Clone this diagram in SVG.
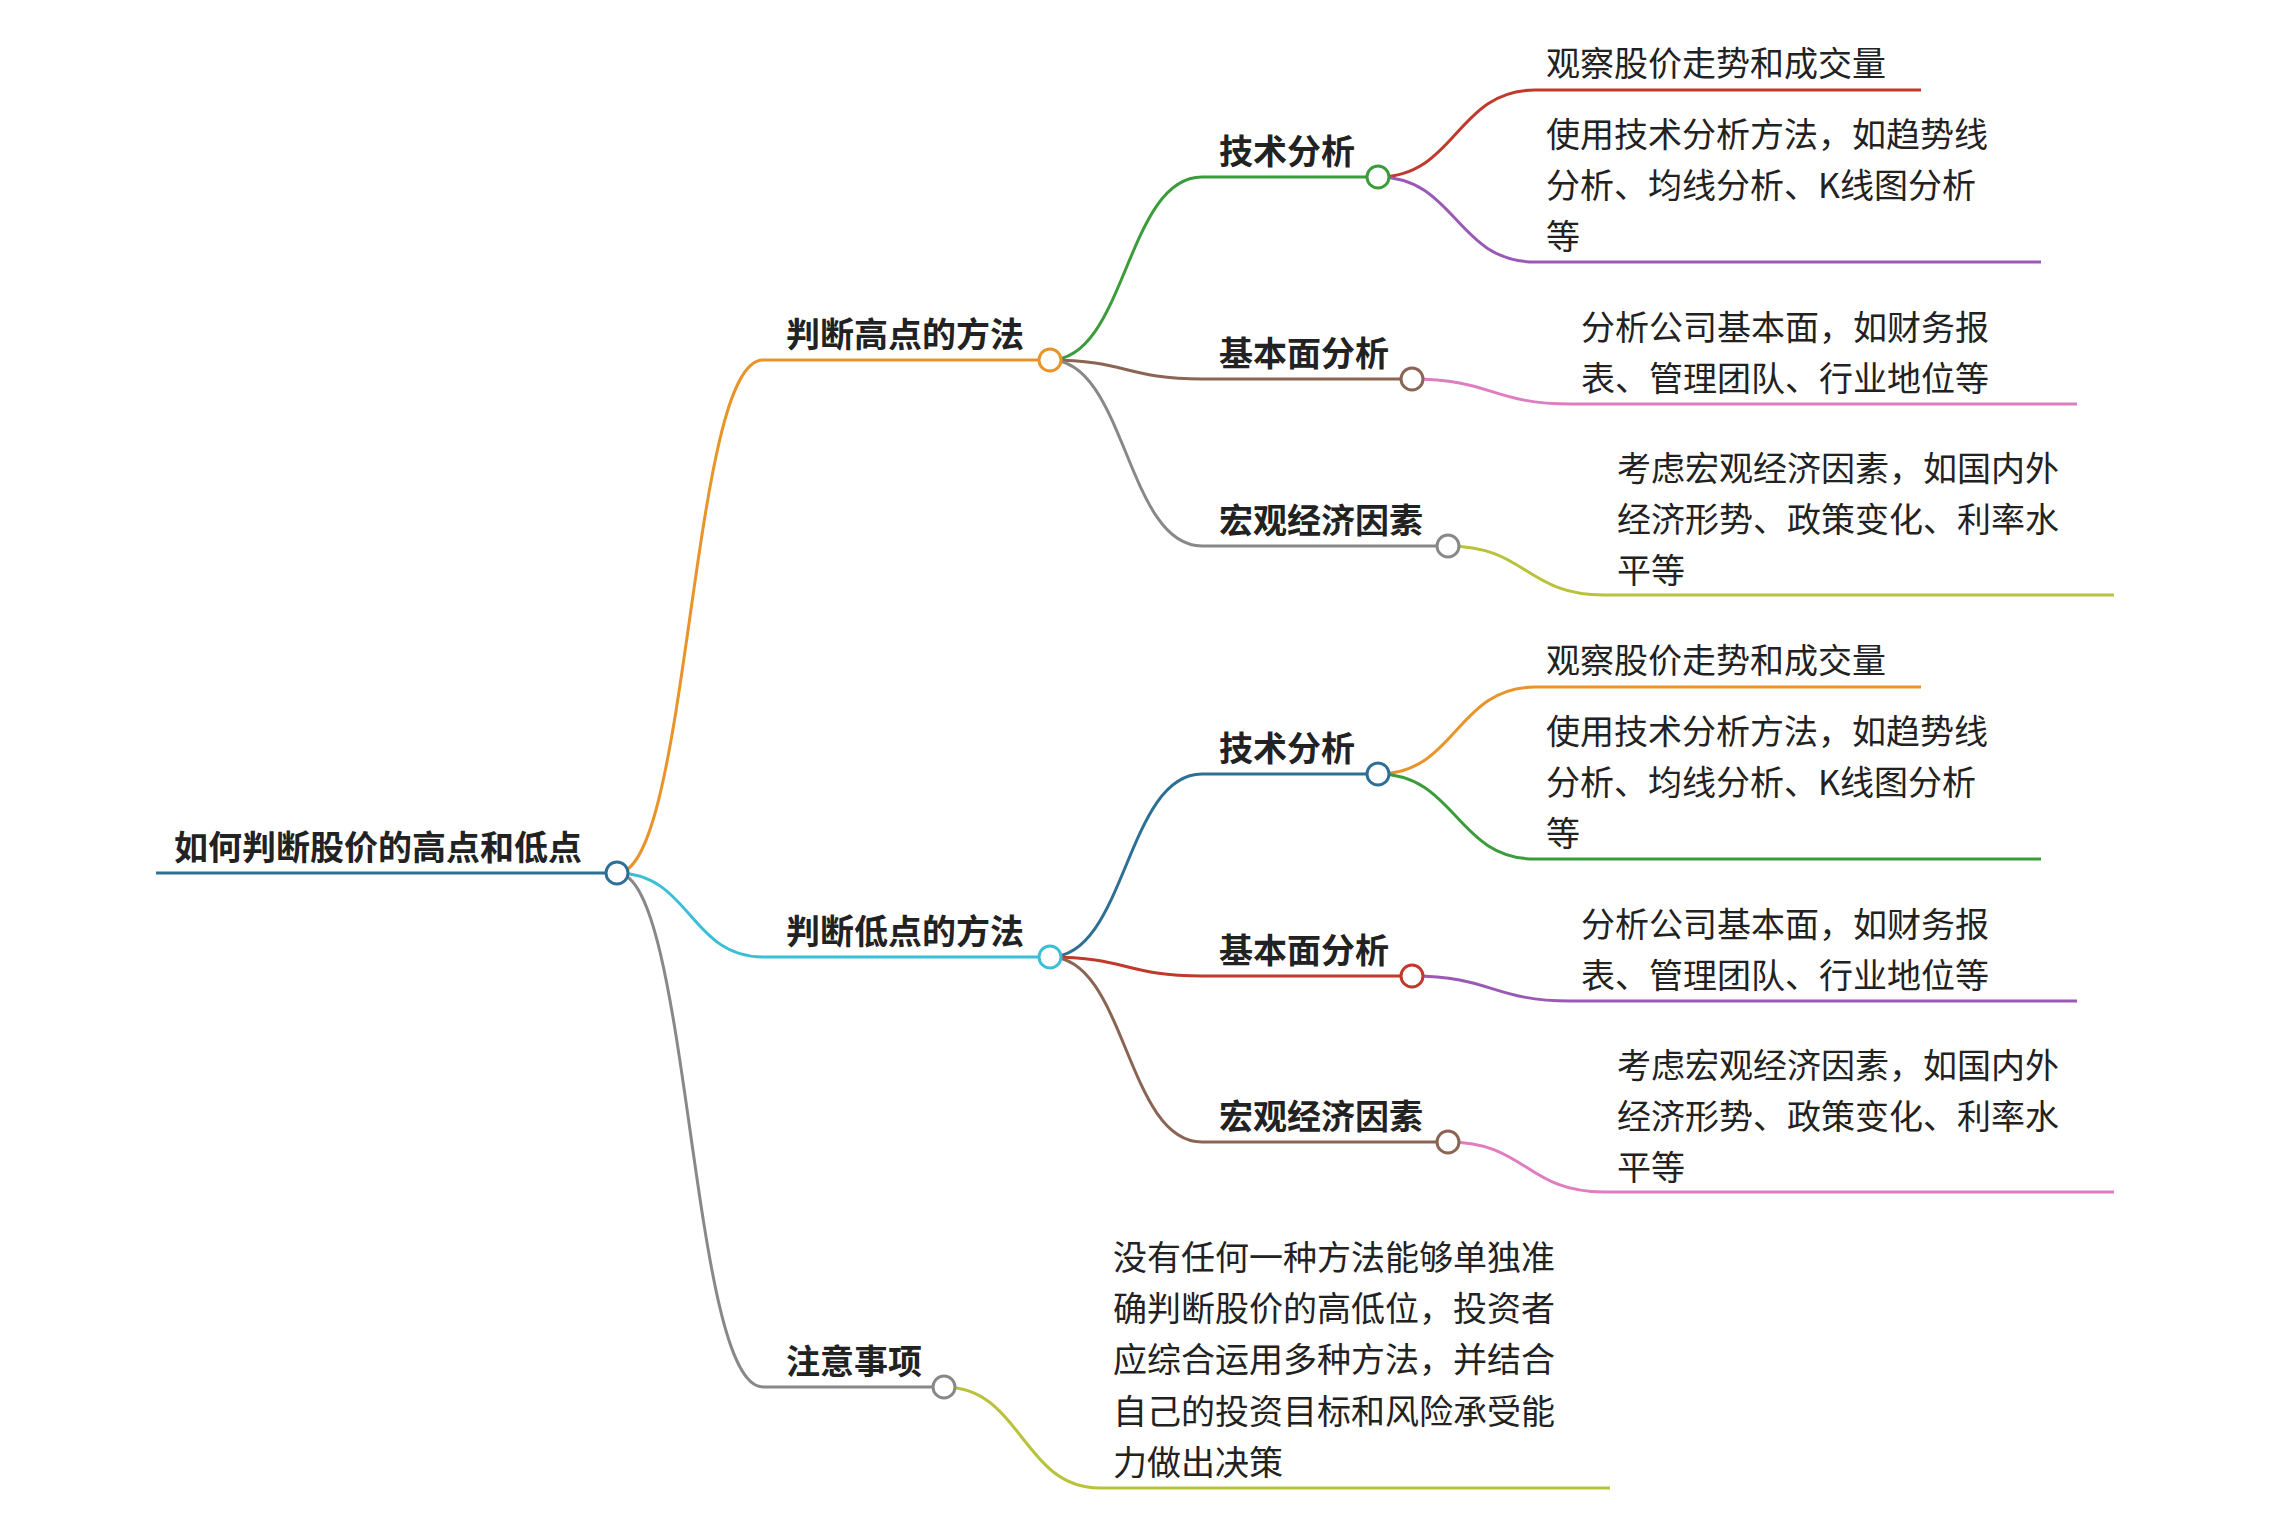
<svg xmlns="http://www.w3.org/2000/svg" width="2270" height="1514" viewBox="0 0 2270 1514">
<style>
text{font-family:"Noto Sans CJK SC","Liberation Sans",sans-serif;font-size:34px;fill:#222}
.b{font-weight:bold}
path{fill:none;stroke-width:3}
circle{fill:#fff;stroke-width:3}
</style>
<rect width="2270" height="1514" fill="#fff"/>
<g id="connectors">
<path stroke="#2e6f96" d="M156 873H617"/>
<path stroke="#e8942a" d="M617 873C690 873 690 360 763 360H1050"/>
<path stroke="#3bbfd6" d="M617 873C690 873 690 957 763 957H1050"/>
<path stroke="#888" d="M617 873C690 873 690 1387 763 1387H944"/>
<path stroke="#3a9c3a" d="M1050 360C1126 360 1126 177 1202 177H1378"/>
<path stroke="#8b6553" d="M1050 360C1126 360 1126 379 1202 379H1412"/>
<path stroke="#888" d="M1050 360C1126 360 1126 546 1202 546H1448"/>
<path stroke="#c0392b" d="M1378 177C1456 177 1456 90 1535 90H1921"/>
<path stroke="#9b59b6" d="M1378 177C1456 177 1456 262 1535 262H2041"/>
<path stroke="#e07cc0" d="M1412 379C1492 379 1492 404 1571 404H2077"/>
<path stroke="#b8c23a" d="M1448 546C1526 546 1526 595 1604 595H2114"/>
<path stroke="#2e6f96" d="M1050 957C1126 957 1126 774 1202 774H1378"/>
<path stroke="#c0392b" d="M1050 957C1126 957 1126 976 1202 976H1412"/>
<path stroke="#8b6553" d="M1050 957C1126 957 1126 1142 1202 1142H1448"/>
<path stroke="#e8942a" d="M1378 774C1456 774 1456 687 1535 687H1921"/>
<path stroke="#3a9c3a" d="M1378 774C1456 774 1456 859 1535 859H2041"/>
<path stroke="#9b59b6" d="M1412 976C1492 976 1492 1001 1571 1001H2077"/>
<path stroke="#e07cc0" d="M1448 1142C1526 1142 1526 1192 1604 1192H2114"/>
<path stroke="#b8c23a" d="M944 1387C1022 1387 1022 1488 1100 1488H1610"/>
</g>
<g id="root"><text class="b" x="174" y="860">如何判断股价的高点和低点</text><circle cx="617" cy="873" r="11" stroke="#2e6f96"/></g>
<g id="high"><text class="b" x="786" y="347">判断高点的方法</text><circle cx="1050" cy="360" r="11" stroke="#e8942a"/></g>
<g id="low"><text class="b" x="786" y="944">判断低点的方法</text><circle cx="1050" cy="957" r="11" stroke="#3bbfd6"/></g>
<g id="note"><text class="b" x="786" y="1374">注意事项</text><circle cx="944" cy="1387" r="11" stroke="#888"/></g>
<g id="h1"><text class="b" x="1219" y="164">技术分析</text><circle cx="1378" cy="177" r="11" stroke="#3a9c3a"/></g>
<g id="h2"><text class="b" x="1219" y="366">基本面分析</text><circle cx="1412" cy="379" r="11" stroke="#8b6553"/></g>
<g id="h3"><text class="b" x="1219" y="533">宏观经济因素</text><circle cx="1448" cy="546" r="11" stroke="#888"/></g>
<g id="l1"><text class="b" x="1219" y="761">技术分析</text><circle cx="1378" cy="774" r="11" stroke="#2e6f96"/></g>
<g id="l2"><text class="b" x="1219" y="963">基本面分析</text><circle cx="1412" cy="976" r="11" stroke="#c0392b"/></g>
<g id="l3"><text class="b" x="1219" y="1129">宏观经济因素</text><circle cx="1448" cy="1142" r="11" stroke="#8b6553"/></g>
<g id="h1a"><text x="1546" y="76">观察股价走势和成交量</text></g>
<g id="h1b"><text x="1546" y="147">使用技术分析方法，如趋势线</text><text x="1546" y="198">分析、均线分析、K线图分析</text><text x="1546" y="249">等</text></g>
<g id="h2a"><text x="1581" y="340">分析公司基本面，如财务报</text><text x="1581" y="391">表、管理团队、行业地位等</text></g>
<g id="h3a"><text x="1617" y="481">考虑宏观经济因素，如国内外</text><text x="1617" y="532">经济形势、政策变化、利率水</text><text x="1617" y="583">平等</text></g>
<g id="l1a"><text x="1546" y="673">观察股价走势和成交量</text></g>
<g id="l1b"><text x="1546" y="744">使用技术分析方法，如趋势线</text><text x="1546" y="795">分析、均线分析、K线图分析</text><text x="1546" y="846">等</text></g>
<g id="l2a"><text x="1581" y="937">分析公司基本面，如财务报</text><text x="1581" y="988">表、管理团队、行业地位等</text></g>
<g id="l3a"><text x="1617" y="1078">考虑宏观经济因素，如国内外</text><text x="1617" y="1129">经济形势、政策变化、利率水</text><text x="1617" y="1180">平等</text></g>
<g id="notea"><text x="1113" y="1270">没有任何一种方法能够单独准</text><text x="1113" y="1321">确判断股价的高低位，投资者</text><text x="1113" y="1372">应综合运用多种方法，并结合</text><text x="1113" y="1424">自己的投资目标和风险承受能</text><text x="1113" y="1475">力做出决策</text></g>
</svg>
